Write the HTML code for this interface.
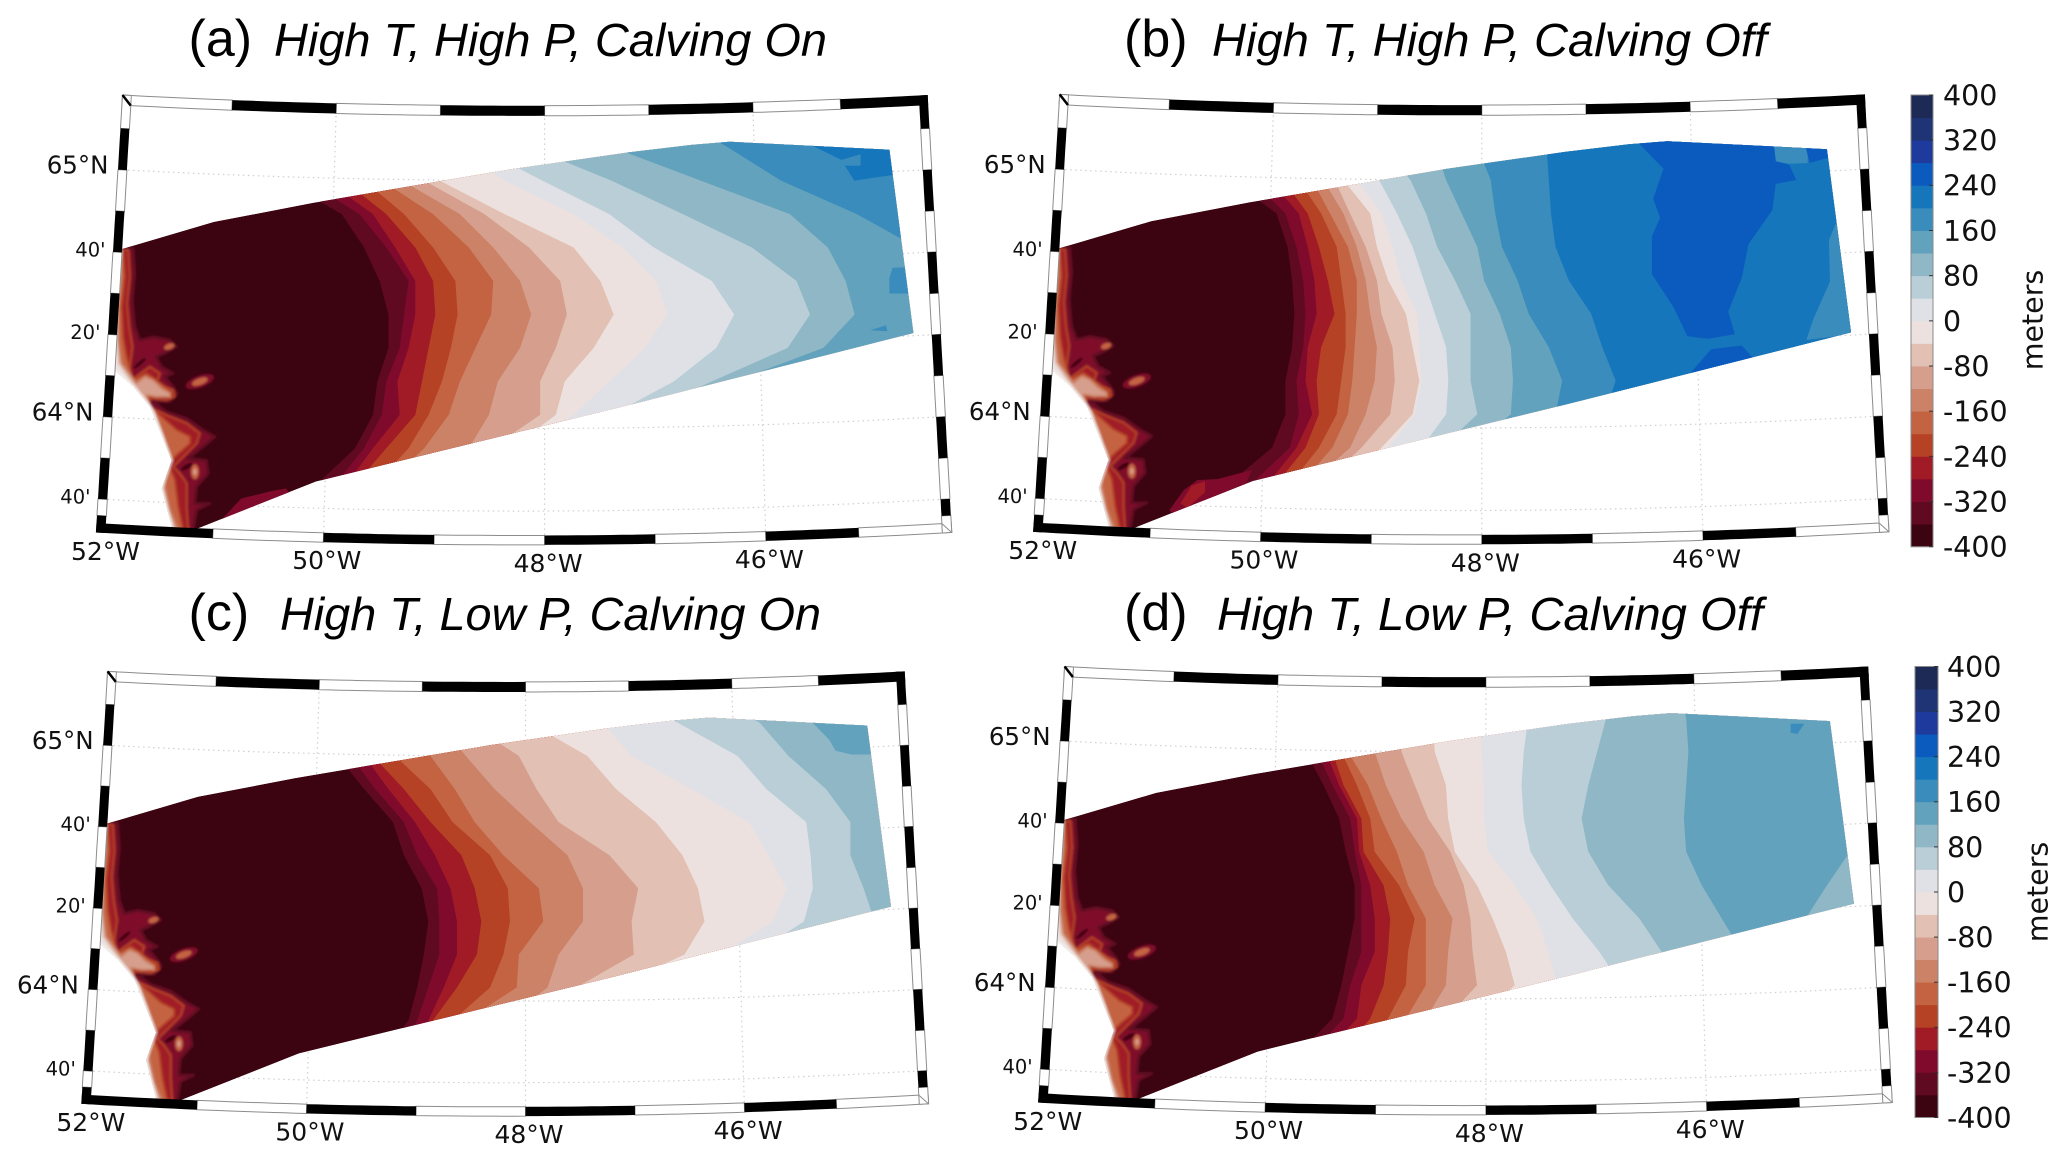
<!DOCTYPE html>
<html lang="en">
<head>
<meta charset="utf-8">
<title>Ice thickness change, four scenarios</title>
<style>
html,body{margin:0;padding:0;background:#fff;}
svg{display:block;}
.title{font-family:"Liberation Sans",Arial,sans-serif;fill:#000;}
.tick{font-family:"DejaVu Sans",sans-serif;fill:#111;}
</style>
</head>
<body>
<svg id="figure" xmlns="http://www.w3.org/2000/svg" width="2067" height="1162" viewBox="0 0 2067 1162">
<defs><filter id="soften" x="-5%" y="-5%" width="110%" height="110%"><feGaussianBlur stdDeviation="1.1"/></filter></defs>
</svg>
<script>
/* ---------- colour scale ---------- */
const colorbarTicks = [400,320,240,160,80,0,-80,-160,-240,-320,-400];
const bandBottoms = [-400,-360,-320,-280,-240,-200,-160,-120,-80,-40,0,40,80,120,160,200,240,280,320,360];
const bandColors = ["#3c0310","#5f0a20","#7f0a2c","#a01b26","#b54225","#c46342","#cb8266","#d69e8c","#e2c0b3","#ece1de","#e0e1e6","#b9ced6","#8fb7c6","#62a2bd","#3a8cbc","#1576bb","#0b5bbf","#1d3a9c","#1f3474","#1c2a55"];

/* ---------- model grid: northing rows (km), contour levels (m) ---------- */
const northingRows = [30,15,0,-15,-30,-45,-60,-75,-90,-105,-120,-135,-150,-165];
const contourLevels = [-360,-320,-280,-240,-200,-160,-120,-80,-40,0,40,80,120,160,200];

/* easting (km from 48W) of each contour at each northing row */
const contoursA = [
[-135,-130,-117,-91,-81,-74,-70,-70,-75,-77,-85,-101,-115,-130],
[-124,-118,-107,-83,-71,-61,-63,-65,-71,-73,-81,-93,-107,-121],
[-118,-110,-98,-77,-67,-58,-58,-61,-66,-65,-77,-88,-101,-115],
[-113,-103,-90,-71,-58,-50,-49,-52,-55,-58,-71,-84,-95,-110],
[-107,-95,-81,-63,-50,-40,-39,-42,-46,-52,-61,-75,-90,-104],
[-101,-88,-73,-50,-34,-23,-24,-31,-38,-43,-54,-70,-84,-98],
[-93,-78,-64,-38,-23,-11,-6,-11,-21,-25,-34,-55,-73,-87],
[-84,-70,-54,-27,-7,7,10,5,-2,-2,-24,-44,-64,-78],
[-73,-61,-47,-18,13,25,31,22,9,5,-15,-35,-55,-73],
[-55,-41,-18,13,35,50,55,45,29,13,-7,-27,-47,-64],
[-47,-30,-1,29,49,75,85,77,58,30,7,-15,-38,-58],
[-27,-7,30,62,93,113,119,109,75,42,19,-4,-27,-44],
[7,30,70,110,127,135,139,125,85,53,30,7,-15,-38],
[56,82,106,140,167,185,190,190,190,190,190,190,190,190]
];
const contoursB = [
[-149,-137,-112,-92,-87,-85,-84,-85,-88,-88,-94,-112,-134,-155],
[-140,-124,-103,-88,-83,-80,-79,-80,-83,-82,-86,-102,-124,-146],
[-134,-115,-95,-82,-78,-75,-74,-78,-79,-76,-83,-95,-115,-137],
[-127,-109,-89,-78,-73,-69,-66,-72,-74,-73,-79,-91,-109,-130],
[-121,-100,-82,-72,-65,-63,-61,-61,-63,-65,-73,-85,-103,-124],
[-115,-94,-76,-68,-60,-56,-56,-57,-58,-60,-67,-80,-97,-118],
[-109,-88,-71,-62,-56,-52,-50,-47,-48,-52,-59,-76,-94,-112],
[-103,-82,-66,-59,-52,-47,-45,-40,-39,-41,-54,-70,-88,-106],
[-94,-76,-62,-50,-47,-42,-34,-31,-28,-31,-45,-63,-82,-100],
[-85,-70,-56,-45,-40,-36,-29,-28,-27,-30,-42,-60,-79,-97],
[-76,-60,-46,-38,-31,-26,-21,-16,-15,-16,-27,-48,-70,-91],
[-63,-45,-32,-25,-20,-12,-5,-5,-5,-2,-18,-39,-60,-82],
[-39,-21,-16,-9,-2,1,8,13,14,13,-5,-27,-48,-70],
[-15,-2,4,6,9,16,21,30,36,33,19,-5,-27,-48],
[22,29,30,31,33,39,49,54,60,55,40,19,-2,-24]
];
const contoursC = [
[-114,-99,-85,-73,-60,-55,-47,-44,-46,-49,-53,-65,-82,-99],
[-108,-94,-79,-68,-55,-49,-40,-39,-39,-44,-49,-59,-76,-94],
[-102,-88,-73,-62,-50,-41,-34,-31,-31,-37,-44,-53,-70,-88],
[-96,-82,-69,-55,-43,-29,-23,-20,-22,-31,-42,-50,-65,-82],
[-88,-73,-59,-43,-33,-16,-8,-7,-10,-16,-33,-47,-62,-79],
[-73,-59,-43,-32,-23,-10,6,8,-3,-4,-27,-42,-59,-73],
[-59,-39,-27,-14,2,19,26,26,15,10,-10,-30,-47,-65],
[-42,-26,-3,5,15,38,51,48,49,23,2,-18,-36,-53],
[-18,2,28,41,59,71,78,81,72,39,16,-7,-24,-42],
[10,35,48,75,101,110,118,112,88,51,22,-1,-18,-36],
[39,69,96,109,127,129,130,126,103,65,36,13,-7,-24],
[80,106,119,136,147,147,153,158,143,109,80,51,22,-7]
];
const contoursD = [
[-105,-94,-81,-73,-66,-63,-59,-59,-62,-65,-69,-84,-102,-124],
[-99,-88,-76,-69,-61,-59,-56,-56,-56,-61,-64,-78,-96,-117],
[-93,-82,-72,-66,-58,-57,-52,-50,-50,-56,-58,-72,-90,-111],
[-88,-79,-69,-64,-56,-55,-46,-43,-44,-46,-52,-65,-84,-105],
[-81,-69,-65,-58,-52,-50,-39,-32,-35,-36,-44,-59,-78,-99],
[-72,-62,-62,-53,-47,-40,-35,-27,-27,-27,-36,-53,-72,-93],
[-59,-50,-50,-45,-38,-28,-23,-15,-17,-18,-27,-47,-65,-87],
[-47,-38,-38,-32,-26,-16,-10,-7,-6,-4,-18,-38,-56,-78],
[-29,-24,-23,-18,-17,-14,-4,3,9,13,-4,-23,-44,-65],
[-10,-3,-2,-1,-1,1,13,23,28,32,20,-4,-26,-47],
[20,19,17,16,17,20,29,39,51,61,48,26,5,-17],
[57,54,50,46,43,46,55,69,79,87,72,51,26,5],
[87,90,91,90,89,90,97,106,115,121,124,118,112,103]
];

/* isolated closed contour regions: level (m) and [easting, northing] km vertices */
const patchesA = [
{level:160,pts:[[156,-39.1],[163.1,-38.8],[170,-50.6],[154.6,-50.6],[154.6,-43.8]]},
{level:160,pts:[[146,-67.1],[153.1,-64.9],[153.7,-67.5]]},
{level:200,pts:[[120.3,15.5],[133.1,9.3],[141.7,11.8],[141.7,6.7],[134.6,6.7],[138.9,0],[156,2.5],[162,14.3],[150,22]]},
{level:-320,pts:[[-145,-152],[-136,-142.5],[-122,-139],[-116,-138],[-110,-145],[-130,-160]]}
];
const patchesB = [
{level:160,pts:[[159,-18.5],[155.5,-27],[156,-45.5],[148.5,-62.4],[145.4,-71.7],[172,-68.3],[166,-18.5]]},
{level:160,pts:[[130.8,18],[146,18],[146,7.6],[137.8,7.3],[131.7,8.4]]},
{level:240,pts:[[70.7,16],[81.4,5.1],[76.8,-8.4],[79.9,-16.9],[76.2,-25.3],[76.2,-42.2],[86,-57.3],[92.1,-70],[101.2,-71.2],[113.4,-69.1],[110.4,-59],[116.5,-43.8],[119.5,-28.7],[130.2,-13.5],[131.7,-1.7],[140.9,0],[137.8,6.7],[131.7,8.4],[130.2,20],[72,20]]},
{level:240,pts:[[90.5,-90],[102.7,-75.9],[116.5,-74.2],[121,-79.3],[121,-95],[92,-105]]},
{level:240,pts:[[145.4,13.5],[145.4,18],[160,18],[160,9.8],[154.6,9.8],[147,7.6]]},
{level:-320,pts:[[-140,-148],[-133.5,-139],[-127.4,-134.5],[-118.3,-134],[-103,-130],[-110,-146],[-130,-158]]},
{level:-280,pts:[[-135,-145],[-130,-137],[-124,-135],[-124,-140],[-132,-147]]}
];
const patchesC = [
{level:120,pts:[[130,15],[137.4,7.4],[140.3,2.4],[147.5,0.7],[156,0.7],[165,0],[165,20],[130,20]]}
];
const patchesD = [
{level:80,pts:[[162.4,-46.7],[153.2,-60.2],[144,-74.5],[172,-75],[172,-46.7]]},
{level:160,pts:[[137,12.6],[143.1,12.6],[140,8],[137,8.6]]}
];

/* outer limit of the model domain, shared by all panels (km) */
const domainOutline = [[-189.7,-30.7],[-148.3,-18.5],[-104,-10],[-46.9,-0.3],[-15.4,5],[37.4,12.6],[66,16],[83.1,17.4],[154.6,13.8],[165.4,-68.3],[38.9,-100.3],[-75.4,-128.2],[-102.6,-134.9],[-157.5,-156.7],[-167.2,-155.2],[-171.7,-138],[-167.2,-125.4],[-176.9,-101.4],[-184.4,-92.4],[-193,-84.9],[-192.2,-62.5],[-191.2,-44.6],[-190,-31.1]];
const coastline = [[-167.2,-155.2],[-171.7,-138],[-167.2,-125.4],[-176.9,-101.4],[-184.4,-92.4],[-193,-84.9],[-192.2,-62.5],[-191.2,-44.6],[-190,-31.1]];

/* coastal fringe contours, shared by all panels (km) */
const coastMinus320 = [[-184.5,-30.3],[-183.7,-41.6],[-184.8,-53.5],[-183.7,-65.5],[-181.5,-71.4],[-175.5,-70],[-168,-71.4],[-165,-74.4],[-170.3,-77.4],[-174,-78.9],[-171.8,-83.4],[-166.5,-86.4],[-170.3,-87.9],[-166.5,-92.4],[-164.7,-95.4],[-168,-99.1],[-175.5,-99.1],[-169.5,-103.6],[-160.5,-106.6],[-153.1,-111.8],[-147.8,-114.8],[-153.1,-119.3],[-159.8,-124.5],[-151.6,-125.3],[-150.8,-131.3],[-156,-137.2],[-156.8,-144.7],[-150.1,-144.7],[-156,-147.7],[-157.6,-156.7]];
const coastMinus280 = [[-186.7,-31.1],[-186,-43],[-187.2,-55],[-186.3,-65.5],[-184.8,-74.4],[-186,-83.4],[-185.2,-89.4],[-177,-83.4],[-172.5,-86.4],[-174,-90.9],[-166.5,-93.9],[-165.8,-96.9],[-169.5,-98.4],[-177,-97.6],[-177.7,-101.4],[-168,-105.8],[-160.5,-108.8],[-154.6,-113.3],[-156,-117.8],[-162,-123.8],[-166.5,-128.3],[-163.5,-131.3],[-160.5,-135.7],[-160.5,-146.2],[-159.8,-156.7]];
const coastMinus200 = [[-189,-31.1],[-188.2,-43],[-189.7,-56.5],[-189,-70],[-187.5,-78.9],[-184.5,-89.4],[-178.5,-86.4],[-173.3,-90.1],[-167.3,-94.6],[-167.3,-96.9],[-177.7,-96.1],[-178.5,-99.9],[-171.8,-105.8],[-165,-111.8],[-159,-114.8],[-159,-117.8],[-164.3,-122.3],[-168.8,-126.8],[-165.8,-134.2],[-164.3,-146.2],[-162,-156.7]];
const coastMinus120 = [[-190,-31.1],[-190,-43],[-191.2,-56.5],[-191.2,-71.4],[-189.7,-81.9],[-183,-90.9],[-179.2,-87.9],[-175.5,-89.4],[-171.8,-93.1],[-168,-95.4],[-168,-96.9],[-174,-96.9],[-178.5,-96.1],[-177,-101.4],[-172.5,-110.3],[-168,-122.3],[-170.3,-128.3],[-170.3,-137.2],[-168,-147.7],[-164.3,-156.7]];
const coastMinus40 = [[-191,-31.1],[-191,-43],[-192,-56.5],[-192,-71.4],[-191,-81.9],[-186,-89],[-179,-98],[-175,-104],[-171,-115],[-169,-122.3],[-171.5,-128.3],[-171.5,-137.2],[-169,-147.7],[-166,-156.7]];
const coastBands = [
{level:-320,edge:-360,width:3,pts:coastMinus320},
{level:-280,edge:-240,width:2,pts:coastMinus280},
{level:-200,edge:-240,width:2,pts:coastMinus200},
{level:-120,edge:-160,width:2,pts:coastMinus120},
{level:-40,edge:-80,width:2,pts:coastMinus40}
];
/* inland hollows: easting, northing, radii (km), tilt (deg), level (m) */
const coastBlobs = [
[-154.6,-90.1,6.7,2.7,-20,-320],[-154.6,-90.1,3.7,1.5,-20,-200],
[-168.3,-74.4,2.4,1.3,-20,-200],[-156.8,-130.5,1.8,3.3,0,-200],
[-156.8,-130.5,0.8,1.5,0,-120],[-160.5,-128.3,3,1,-30,-400],[-181.5,-81.9,3.5,0.8,-40,-400]
];

/* ---------- graticule ---------- */
const lonTicks = [52,50,48,46];
const lonTickLabels = ["52°W","50°W","48°W","46°W"];
const latTicks = [65,64.667,64.333,64,63.667];
const latTickLabels = ["65°N","40'","20'","64°N","40'"];
const frameTopBreaks = [52.055,51,50,49,48,47,46,45.16,44.32];
const frameLatBreaks = [65.302,65.167,65,64.833,64.667,64.5,64.333,64.167,64,63.833,63.667,63.6,63.531];

const panels = [
{id:'a',cx:544.6,yRef:180.6,kx:2.23,ky:2.231,sx:1,sy:1,tag:'(a)',tagX:188.5,name:'High T, High P, Calving On',nameX:274,nameW:553,base:56,contours:contoursA,patches:patchesA},
{id:'b',cx:1481.8,yRef:180,kx:2.232,ky:2.231,sx:1,sy:1,tag:'(b)',tagX:1124,name:'High T, High P, Calving Off',nameX:1212,nameW:555,base:56,contours:contoursB,patches:patchesB},
{id:'c',cx:525.5,yRef:756,kx:2.21,ky:2.205,sx:0.99,sy:0.9886,tag:'(c)',tagX:188.5,name:'High T, Low P, Calving On',nameX:280,nameW:541,base:630,contours:contoursC,patches:patchesC},
{id:'d',cx:1485.9,yRef:751.8,kx:2.225,ky:2.223,sx:0.998,sy:0.9968,tag:'(d)',tagX:1124,name:'High T, Low P, Calving Off',nameX:1217,nameW:546,base:630,contours:contoursD,patches:patchesD}
];
const colorbars = [
{id:'top',x:1911,y:95,w:22,h:451.7,labelX:1943,titleX:2033,titleY:320},
{id:'bottom',x:1915,y:666.5,w:23,h:451,labelX:1947,titleX:2038,titleY:892}
];

/* ---------- helpers ---------- */
const NS = 'http://www.w3.org/2000/svg';
const root = document.getElementById('figure');
function make(tag, attrs, parent) {
  const el = document.createElementNS(NS, tag);
  for (const k in attrs) el.setAttribute(k, attrs[k]);
  parent.appendChild(el);
  return el;
}
function colorOf(level) { return bandColors[bandBottoms.indexOf(level)]; }
function pathOf(pts) { return 'M' + pts.map(p => p[0].toFixed(1) + ' ' + p[1].toFixed(1)).join('L') + 'Z'; }

/* axis functions */
function gridX(p, e) { return p.cx + e * p.kx; }
function gridY(p, n) { return p.yRef - n * p.ky; }
function gridPt(p, q) { return [gridX(p, q[0]), gridY(p, q[1])]; }
function geo(p, lon, lat) {
  const scaleX = (110.65 - 3.7 * (lat - 63.53)) * p.sx;
  const t = (lon - 48.19) / 3.87;
  const sag = (11 + (65 - lat)) * p.sx;
  return [p.cx + (48 - lon) * scaleX, p.yRef + (65 - lat) * 248 * p.sy - sag * t * t];
}
function alongLat(p, lat, a, b) {
  const out = [];
  for (let i = 0; i <= 10; i++) out.push(geo(p, a + (b - a) * i / 10, lat));
  return out;
}
function alongLon(p, lon, a, b) {
  const out = [];
  for (let i = 0; i <= 4; i++) out.push(geo(p, lon, a + (b - a) * i / 4));
  return out;
}

const LON_W = 52.055, LON_E = 44.32, LAT_T = 65.302, LAT_B = 63.531;
const BAND_LON = 0.085, BAND_TOP = 0.041, BAND_BOT = 0.038;

function drawGraticule(p, g) {
  lonTicks.slice(1).forEach(lon => {
    const line = make('path', {d: 'M' + alongLon(p, lon, LAT_B, LAT_T).map(q => q.join(' ')).join('L'), fill:'none', stroke:'#cfcfcf', 'stroke-width':1.2, 'stroke-dasharray':'1.5 3.5'}, g);
    
    
  });
  latTicks.forEach(lat => {
    const line = make('path', {d: 'M' + alongLat(p, lat, LON_W, LON_E).map(q => q.join(' ')).join('L'), fill:'none', stroke:'#cfcfcf', 'stroke-width':1.2, 'stroke-dasharray':'1.5 3.5'}, g);
    
    
  });
}

function drawField(p, g) {
  const clipId = 'domain-' + p.id;
  const defs = make('defs', {}, g);
  const clip = make('clipPath', {id: clipId}, defs);
  make('path', {d: pathOf(domainOutline.map(q => gridPt(p, q)))}, clip);

  const field = make('g', {'clip-path': 'url(#' + clipId + ')'}, g);
  
  

  const base = make('path', {d: pathOf(domainOutline.map(q => gridPt(p, q))), fill: bandColors[0]}, field);
  
  

  p.contours.forEach((eastings, i) => {
    const level = contourLevels[i];
    const pts = eastings.map((e, r) => [gridX(p, e), gridY(p, northingRows[r])]);
    pts.push([gridX(p, 260), gridY(p, northingRows[northingRows.length - 1])]);
    pts.push([gridX(p, 260), gridY(p, northingRows[0])]);
    const band = make('path', {d: pathOf(pts), fill: colorOf(level)}, field);
    
    
  });

  p.patches.forEach(item => {
    const patch = make('path', {d: pathOf(item.pts.map(q => gridPt(p, q))), fill: colorOf(item.level)}, field);
    
    
  });

  const coast = make('g', {filter: 'url(#soften)'}, field);
  
  

  coastBands.forEach(item => {
    const pts = item.pts.map(q => gridPt(p, q));
    const last = item.pts[item.pts.length - 1], first = item.pts[0];
    pts.push(gridPt(p, [-225, last[1]]));
    pts.push(gridPt(p, [-225, first[1]]));
    const band = make('path', {d: pathOf(pts), fill: colorOf(item.level), stroke: colorOf(item.edge), 'stroke-width': item.width, 'stroke-linejoin':'round'}, coast);
    
    
  });

  coastBlobs.forEach(b => {
    const c = gridPt(p, b);
    const blob = make('ellipse', {cx: c[0], cy: c[1], rx: b[2] * p.kx, ry: b[3] * p.ky, fill: colorOf(b[5]), transform: 'rotate(' + b[4] + ' ' + c[0] + ' ' + c[1] + ')'}, coast);
    
    
  });

  const shore = make('path', {d: 'M' + coastline.map(q => gridPt(p, q).join(' ')).join('L'), fill:'none', stroke:'#ffffff', 'stroke-width':2.5, 'stroke-opacity':0.7}, coast);
  
  
}

function drawFrame(p, g) {
  const frame = make('g', {}, g);
  
  
  const segs = [];
  for (let i = 0; i < frameTopBreaks.length - 1; i++) {
    const a = frameTopBreaks[i], b = frameTopBreaks[i + 1];
    segs.push({black: i % 2 === 1, pts: alongLat(p, LAT_T, a, b).concat(alongLat(p, LAT_T - BAND_TOP, b, a))});
    segs.push({black: i % 2 === 0, pts: alongLat(p, LAT_B, a, b).concat(alongLat(p, LAT_B + BAND_BOT, b, a))});
  }
  for (let i = 0; i < frameLatBreaks.length - 1; i++) {
    const a = frameLatBreaks[i], b = frameLatBreaks[i + 1];
    segs.push({black: i % 2 === 1, pts: alongLon(p, LON_W, a, b).concat(alongLon(p, LON_W - BAND_LON, b, a))});
    segs.push({black: i % 2 === 0, pts: alongLon(p, LON_E, a, b).concat(alongLon(p, LON_E + BAND_LON, b, a))});
  }
  segs.filter(s => !s.black).forEach(s => {
    const seg = make('path', {d: pathOf(s.pts), fill:'#fff', stroke:'#8c8c8c', 'stroke-width':1}, frame);
    
    
  });
  segs.filter(s => s.black).forEach(s => {
    const seg = make('path', {d: pathOf(s.pts), fill:'#000'}, frame);
    
    
  });
  const tlA = geo(p, LON_W, LAT_T), tlB = geo(p, LON_W - BAND_LON, LAT_T - BAND_TOP);
  const cornerTL = make('line', {x1: tlA[0], y1: tlA[1], x2: tlB[0], y2: tlB[1], stroke:'#000', 'stroke-width':2.5}, frame);
  
  
  const brA = geo(p, LON_E, LAT_B), brB = geo(p, LON_E + BAND_LON, LAT_B + BAND_BOT);
  const cornerBR = make('line', {x1: brA[0], y1: brA[1], x2: brB[0], y2: brB[1], stroke:'#8c8c8c', 'stroke-width':1}, frame);
  
  
}

function drawLabels(p, g) {
  latTicks.forEach((lat, i) => {
    const at = geo(p, LON_W, lat);
    const major = latTickLabels[i].indexOf('N') >= 0;
    const size = major ? 24.5 : 19.5;
    const cy = at[1] - (major ? 5 : 2.5);
    const t = make('text', {x: at[0] - (major ? 9.5 : 7.5), y: cy + size * 0.365, 'text-anchor':'end', 'font-size': size, class:'tick'}, g);
    t.textContent = latTickLabels[i];
    
    
  });
  lonTicks.forEach((lon, i) => {
    const at = geo(p, lon, LAT_B);
    const t = make('text', {x: at[0] + 3.5, y: at[1] + 27, 'text-anchor':'middle', 'font-size':25, class:'tick'}, g);
    t.textContent = lonTickLabels[i];
    
    
  });
  const tag = make('text', {x: p.tagX, y: p.base, 'font-size':52, class:'title'}, g);
  tag.textContent = p.tag;
  
  
  const name = make('text', {x: p.nameX, y: p.base, 'font-size':46, 'font-style':'italic', class:'title', textLength: p.nameW, lengthAdjust:'spacingAndGlyphs'}, g);
  name.textContent = p.name;
  
  
}

panels.forEach(p => {
  const g = make('g', {}, root);
  
  
  drawGraticule(p, g);
  drawField(p, g);
  drawFrame(p, g);
  drawLabels(p, g);
});

/* ---------- colour bars ---------- */
colorbars.forEach(c => {
  const g = make('g', {}, root);
  
  
  const yOf = v => c.y + (400 - v) / 800 * c.h;
  bandBottoms.forEach((v, i) => {
    const r = make('rect', {x: c.x, y: yOf(v + 40), width: c.w, height: yOf(v) - yOf(v + 40) + 0.4, fill: bandColors[i]}, g);
    
    
  });
  const box = make('rect', {x: c.x, y: c.y, width: c.w, height: c.h, fill:'none', stroke:'#8a8a8a', 'stroke-width':1}, g);
  
  
  colorbarTicks.forEach(v => {
    const tick = make('line', {x1: c.x + c.w - 4, x2: c.x + c.w, y1: yOf(v), y2: yOf(v), stroke:'#333', 'stroke-width':1}, g);
    
    
    const t = make('text', {x: c.labelX, y: yOf(v) + 10.4, 'font-size':28.5, class:'tick'}, g);
    t.textContent = String(v);
    
    
  });
  const title = make('text', {x: c.titleX, y: c.titleY, 'font-size':28.5, 'text-anchor':'middle', 'dominant-baseline':'central', class:'tick', transform: 'rotate(-90 ' + c.titleX + ' ' + c.titleY + ')'}, g);
  title.textContent = 'meters';
  
  
});
</script>
</body>
</html>
